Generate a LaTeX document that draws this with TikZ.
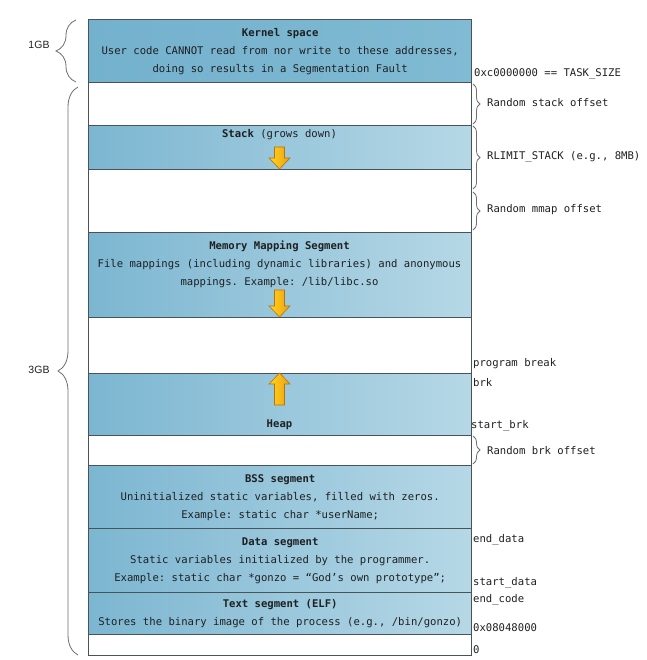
\documentclass[tikz,border=0pt]{standalone}
\usepackage{fontspec}
\setmainfont{Liberation Sans}
\setmonofont{DejaVu Sans Mono}
\usetikzlibrary{decorations.pathreplacing}
\definecolor{segL}{RGB}{124,182,209}
\definecolor{segR}{RGB}{182,216,230}
\definecolor{kernL}{RGB}{116,177,205}
\definecolor{kernR}{RGB}{128,186,211}
\definecolor{edge}{RGB}{72,84,90}
\definecolor{ink}{RGB}{30,32,34}
\definecolor{arrY}{RGB}{255,214,30}
\definecolor{arrO}{RGB}{240,158,15}
\definecolor{arrE}{RGB}{180,115,20}
\definecolor{brc}{RGB}{110,110,110}
\begin{document}
\begin{tikzpicture}[x=1pt,y=-1pt,
  mono/.style={font=\ttfamily\fontsize{10.6}{18}\selectfont, text=ink},
  seg/.style={draw=edge, line width=1.4pt, left color=segL, right color=segR,
    minimum width=383pt, inner sep=0pt, anchor=north west, align=center, mono},
  kseg/.style={seg, left color=kernL, right color=kernR},
  gap/.style={draw=edge, line width=1.4pt, fill=white, minimum width=383pt,
    inner sep=0pt, anchor=north west},
  lab/.style={mono, anchor=west, inner sep=0pt},
  ttl/.style={mono, align=center, inner sep=0pt},
  yarrow/.style={draw=arrE, line width=0.6pt, left color=arrY, right color=arrO},
  rbrace/.style={draw=brc, line width=0.8pt, decorate, decoration={brace, amplitude=7pt}},
  lbrace/.style={draw=brc, line width=0.8pt, decorate, decoration={brace, amplitude=20pt}},
  gb/.style={font=\fontsize{10.5}{12}\selectfont, text=ink, inner sep=0pt}
]
\useasboundingbox (0,0) rectangle (646,660);
\fill[white] (0,0) rectangle (646,660);

% segments
\node[kseg, minimum height=63pt] (kern) at (88,19)
  {\textbf{Kernel space}\\User code CANNOT read from nor write to these addresses,\\doing so results in a Segmentation Fault};
\node[gap, minimum height=43pt] (g1) at (88,82) {};
\node[seg, minimum height=44pt] (stack) at (88,125) {};
\node[gap, minimum height=63pt] (g2) at (88,169) {};
\node[seg, minimum height=85pt] (mms) at (88,232) {};
\node[gap, minimum height=56pt] (g3) at (88,317) {};
\node[seg, minimum height=62pt] (heap) at (88,373) {};
\node[gap, minimum height=30pt] (g4) at (88,435) {};
\node[seg, minimum height=63pt] (bss) at (88,465)
  {\textbf{BSS segment}\\Uninitialized static variables, filled with zeros.\\Example: static char *userName;};
\node[seg, minimum height=64pt] (data) at (88,528)
  {\textbf{Data segment}\\Static variables initialized by the programmer.\\Example: static char *gonzo = “God’s own prototype”;};
\node[seg, minimum height=42pt] (text) at (88,592)
  {\textbf{Text segment (ELF)}\\Stores the binary image of the process (e.g., /bin/gonzo)};
\node[gap, minimum height=21pt] (g5) at (88,634) {};

% titles inside segments
\node[ttl] (stackt) at (279.5,135) {\textbf{Stack} (grows down)};
\node[ttl] (mmst) at (279.5,264) {\textbf{Memory Mapping Segment}\\File mappings (including dynamic libraries) and anonymous\\mappings. Example: /lib/libc.so};
\node[ttl] (heapt) at (279.5,425) {\textbf{Heap}};

% arrows
\draw[yarrow] (274.5,147) -- (284.5,147) -- (284.5,158) -- (290,158) -- (279.5,169) -- (269,158) -- (274.5,158) -- cycle;
\draw[yarrow] (274.5,290) -- (284.5,290) -- (284.5,306) -- (290,306) -- (279.5,317) -- (269,306) -- (274.5,306) -- cycle;
\draw[yarrow] (274.5,405) -- (284.5,405) -- (284.5,384) -- (290,384) -- (279.5,373) -- (269,384) -- (274.5,384) -- cycle;

% right braces
\coordinate (rb1a) at (473,84);  \coordinate (rb1b) at (473,124);
\coordinate (rb2a) at (473,126); \coordinate (rb2b) at (473,189);
\coordinate (rb3a) at (473,192); \coordinate (rb3b) at (473,230);
\coordinate (rb4a) at (473,436); \coordinate (rb4b) at (473,464);
\draw[rbrace] (rb1a) -- (rb1b);
\draw[rbrace] (rb2a) -- (rb2b);
\draw[rbrace] (rb3a) -- (rb3b);
\draw[rbrace] (rb4a) -- (rb4b);

% right labels
\node[lab] (task) at (474,74) {0xc0000000 == TASK\_SIZE};
\node[lab] (rso) at (487,103) {Random stack offset};
\node[lab] (rls) at (487,157) {RLIMIT\_STACK (e.g., 8MB)};
\node[lab] (rmo) at (487,210) {Random mmap offset};
\node[lab] (pbrk) at (473,364) {program break};
\node[lab] (brk) at (473,383) {brk};
\node[lab] (sbrk) at (471,426) {start\_brk};
\node[lab] (rbo) at (487,451) {Random brk offset};
\node[lab] (edata) at (473,540) {end\_data};
\node[lab] (sdata) at (473,583) {start\_data};
\node[lab] (ecode) at (473,600) {end\_code};
\node[lab] (addr) at (473,628) {0x08048000};
\node[lab] (zero) at (473,650) {0};

% left braces
\coordinate (lb1a) at (76,82);  \coordinate (lb1b) at (76,20);
\coordinate (lb2a) at (78,655); \coordinate (lb2b) at (78,87);
\draw[lbrace] (lb1a) -- (lb1b);
\draw[lbrace] (lb2a) -- (lb2b);
\node[gb] (g1gb) at (39,45) {1GB};
\node[gb] (g3gb) at (39,370) {3GB};
\end{tikzpicture}
\end{document}
